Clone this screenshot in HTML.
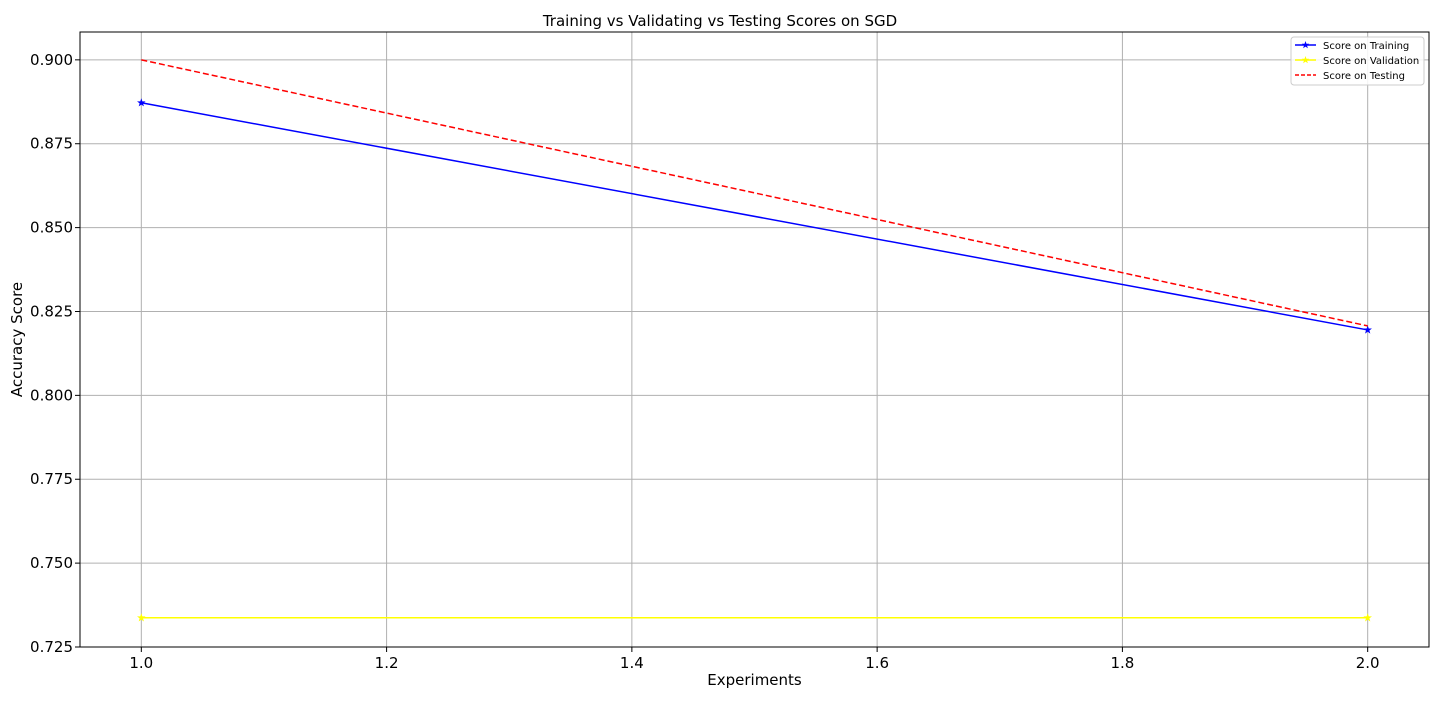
<!DOCTYPE html>
<html><head><meta charset="utf-8"><style>
body{margin:0;background:#fff;}
svg{display:block;font-family:"DejaVu Sans","Liberation Sans",sans-serif;}
</style></head><body>
<svg id="chart" width="1440" height="720"></svg>
<script>
const categories=[1.0,2.0];
const trainScores=[0.8872,0.8195];
const valScores=[0.7337,0.7337];
const testScores=[0.9000,0.8207];
const xTicks=[1.0,1.2,1.4,1.6,1.8,2.0];
const yTicks=[0.725,0.750,0.775,0.800,0.825,0.850,0.875,0.900];
const L=80,R=1429,T=32,B=647;
const xMin=0.95,xMax=2.05,yMin=0.725,yMax=0.9083;
const X=v=>L+(v-xMin)/(xMax-xMin)*(R-L);
const Y=v=>B-(v-yMin)/(yMax-yMin)*(B-T);
const svg=document.getElementById('chart');
const NS='http://www.w3.org/2000/svg';
function mk(tag,attrs,parent){const e=document.createElementNS(NS,tag);for(const k in attrs)e.setAttribute(k,attrs[k]);(parent||svg).appendChild(e);return e;}
const grid=mk('g',{});


xTicks.forEach(t=>{const x=X(t);
const l=mk('line',{x1:x,x2:x,y1:T,y2:B,stroke:'#b0b0b0','stroke-width':1},grid);

mk('line',{x1:x,x2:x,y1:B,y2:B+5,stroke:'#000'});
const tx=mk('text',{x:x,y:B+21,'text-anchor':'middle','font-size':15});tx.textContent=t.toFixed(1);
});
yTicks.forEach(t=>{const y=Y(t);
const l=mk('line',{x1:L,x2:R,y1:y,y2:y,stroke:'#b0b0b0','stroke-width':1},grid);

mk('line',{x1:L-5,x2:L,y1:y,y2:y,stroke:'#000'});
const tx=mk('text',{x:L-7,y:y+5,'text-anchor':'end','font-size':15});tx.textContent=t.toFixed(3);
});
function star(cx,cy,r,color,parent){let p='';for(let i=0;i<10;i++){const a=-Math.PI/2+i*Math.PI/5;const rr=i%2?r*0.4:r;p+=(cx+rr*Math.cos(a))+','+(cy+rr*Math.sin(a))+' ';}
const s=mk('polygon',{points:p,fill:color},parent);}
function series(vals,color,dash,marker,name){const g=mk('g',{});

const pts=vals.map((v,i)=>X(categories[i])+','+Y(v)).join(' ');
mk('polyline',{points:pts,fill:'none',stroke:color,'stroke-width':1.5,'stroke-dasharray':dash||''},g);
if(marker)vals.forEach((v,i)=>star(X(categories[i]),Y(v),4.5,color,g));}
series(trainScores,'#0000ff',null,true,'training-series');
series(valScores,'#ffff00',null,true,'validation-series');
series(testScores,'#ff0000','6,3',false,'testing-series');
const frame=mk('rect',{x:L,y:T,width:R-L,height:B-T,fill:'none',stroke:'#000','stroke-width':1});

const title=mk('text',{x:720,y:26,'text-anchor':'middle','font-size':15});title.textContent='Training vs Validating vs Testing Scores on SGD';

const xl=mk('text',{x:(L+R)/2,y:685,'text-anchor':'middle','font-size':15});xl.textContent='Experiments';

const yl=mk('text',{x:0,y:0,'text-anchor':'middle','font-size':15,transform:'translate(22,'+((T+B)/2)+') rotate(-90)'});yl.textContent='Accuracy Score';

const lg=mk('g',{});

mk('rect',{x:1291,y:37,width:133,height:48,rx:3,fill:'#fff','fill-opacity':0.85,stroke:'#ccc'},lg);
const items=[['Score on Training','#0000ff',null,true],['Score on Validation','#ffff00',null,true],['Score on Testing','#ff0000','4,2',false]];
items.forEach((it,i)=>{const y=45+i*15;const e=mk('g',{},lg);

mk('line',{x1:1295,x2:1316,y1:y,y2:y,stroke:it[1],'stroke-width':1.5,'stroke-dasharray':it[2]||''},e);
if(it[3])star(1305.5,y,4,it[1],e);
const t=mk('text',{x:1323,y:y+4,'font-size':10},e);t.textContent=it[0];});
</script>
</body></html>
